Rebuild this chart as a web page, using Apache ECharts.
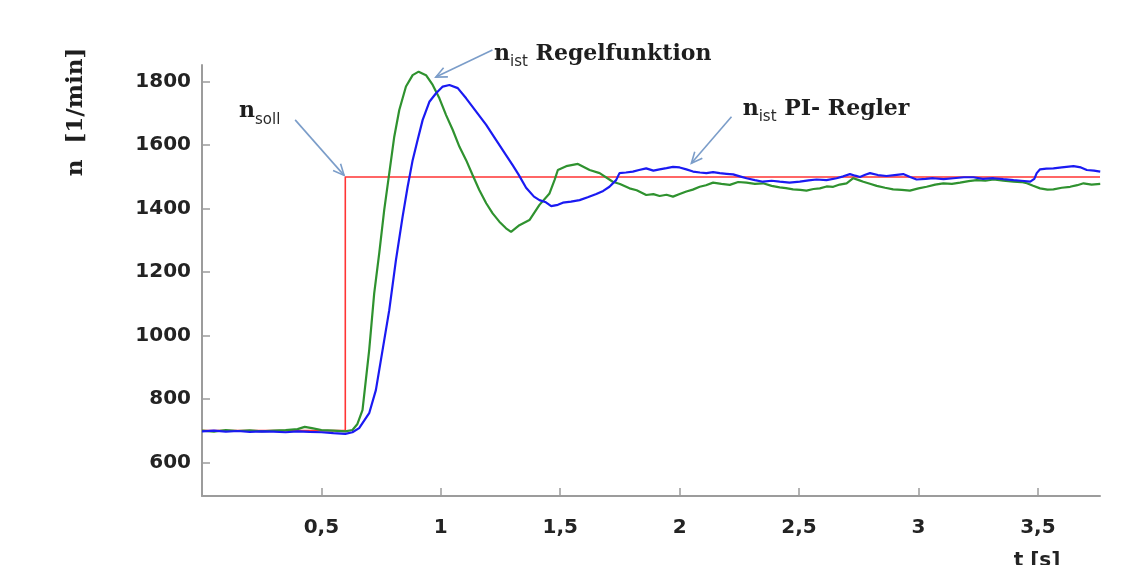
<!DOCTYPE html>
<html><head><meta charset="utf-8">
<script src="https://cdn.jsdelivr.net/npm/echarts@6/dist/echarts.min.js"></script>
<style>html,body{margin:0;padding:0;background:#fff}#c{width:1126px;height:565px}</style>
</head><body><div id="c"></div>
<script>
// ---- data (t in s, n in 1/min) ----
const tSoll = [0, 0.6, 0.6, 3.76];
const nSoll = [700, 700, 1500, 1500];

const tGreen = [0.00,0.05,0.10,0.15,0.20,0.25,0.30,0.35,0.40,0.43,0.46,0.50,0.55,0.60,0.63,0.65,0.672,0.70,0.721,0.742,0.763,0.784,0.805,0.826,0.854,0.882,0.907,0.938,0.966,0.994,1.022,1.050,1.078,1.106,1.133,1.161,1.190,1.217,1.245,1.273,1.294,1.329,1.371,1.413,1.455,1.476,1.490,1.525,1.574,1.623,1.665,1.720,1.75,1.790,1.82,1.860,1.89,1.916,1.945,1.972,2.00,2.028,2.055,2.084,2.11,2.140,2.175,2.210,2.245,2.280,2.315,2.349,2.385,2.419,2.445,2.475,2.505,2.531,2.56,2.587,2.615,2.643,2.67,2.699,2.727,2.75,2.769,2.80,2.825,2.86,2.894,2.93,2.964,3.00,3.034,3.07,3.104,3.14,3.174,3.21,3.244,3.28,3.314,3.355,3.398,3.43,3.454,3.48,3.509,3.54,3.565,3.60,3.635,3.665,3.691,3.725,3.761];
const nGreen = [700,697,702,699,701,698,700,702,705,712,708,702,700,698,702,720,765,954,1133,1259,1396,1511,1627,1711,1785,1821,1832,1821,1790,1748,1695,1648,1595,1553,1506,1459,1417,1385,1359,1338,1327,1348,1364,1412,1448,1490,1522,1534,1541,1522,1512,1485,1478,1464,1458,1443,1446,1440,1444,1438,1446,1454,1460,1469,1474,1482,1478,1475,1484,1482,1478,1480,1472,1467,1465,1461,1459,1457,1462,1464,1470,1469,1476,1480,1496,1490,1485,1478,1472,1466,1461,1459,1457,1464,1469,1476,1480,1478,1482,1487,1490,1488,1492,1488,1485,1484,1480,1472,1464,1460,1461,1466,1469,1474,1480,1476,1478];

const tBlue = [0.00,0.05,0.10,0.15,0.20,0.25,0.30,0.35,0.40,0.45,0.50,0.55,0.60,0.63,0.658,0.70,0.728,0.756,0.784,0.812,0.840,0.861,0.882,0.903,0.924,0.952,0.980,1.008,1.036,1.071,1.106,1.148,1.190,1.231,1.273,1.300,1.325,1.357,1.390,1.413,1.440,1.462,1.490,1.511,1.545,1.581,1.615,1.651,1.680,1.706,1.734,1.748,1.775,1.804,1.830,1.860,1.890,1.916,1.945,1.972,2.000,2.028,2.056,2.085,2.112,2.140,2.168,2.196,2.224,2.252,2.280,2.315,2.349,2.385,2.419,2.460,2.503,2.540,2.573,2.615,2.657,2.685,2.713,2.735,2.755,2.777,2.797,2.830,2.866,2.900,2.936,2.965,2.992,3.030,3.062,3.105,3.146,3.190,3.230,3.270,3.314,3.355,3.398,3.430,3.468,3.485,3.495,3.509,3.535,3.565,3.600,3.649,3.680,3.705,3.735,3.761];
const nBlue = [698,700,697,699,696,698,697,695,698,696,695,692,690,695,708,755,828,954,1080,1238,1375,1469,1553,1617,1680,1737,1764,1785,1790,1780,1748,1706,1664,1617,1569,1538,1508,1466,1438,1427,1420,1408,1412,1419,1422,1427,1436,1446,1456,1469,1490,1512,1514,1517,1522,1527,1520,1524,1528,1532,1530,1524,1517,1514,1512,1515,1512,1510,1508,1502,1496,1490,1485,1488,1485,1482,1485,1489,1492,1490,1496,1502,1509,1504,1500,1507,1512,1506,1503,1506,1509,1500,1492,1494,1496,1493,1496,1499,1499,1494,1496,1493,1490,1488,1485,1494,1512,1524,1526,1527,1530,1534,1530,1522,1520,1517];

const xTicks = [0.5, 1, 1.5, 2, 2.5, 3, 3.5];
const yTicks = [600, 800, 1000, 1200, 1400, 1600, 1800];

// annotation texts: [main, subscript, rest]
const annSoll = ['n', 'soll', ''];
const annRegel = ['n', 'ist', ' Regelfunktion'];
const annPI = ['n', 'ist', ' PI- Regler'];

const zip = (a, b) => a.map((v, i) => [v, b[i]]);

const axisGrey = '#9c9c9c';
const labelFont = {fontFamily: 'DejaVu Sans', fontWeight: 'bold', fontSize: 20, color: '#232323'};

const chart = echarts.init(document.getElementById('c'), null, {renderer: 'canvas'});
chart.setOption({
  animation: false,
  backgroundColor: '#ffffff',
  grid: {left: 202, right: 26, top: 65, bottom: 69, containLabel: false},
  xAxis: {
    type: 'value', min: 0, max: 3.76,
    axisLine: {show: true, onZero: false, lineStyle: {color: axisGrey, width: 2}},
    axisTick: {show: true, inside: true, length: 8, lineStyle: {color: axisGrey, width: 1.5}, customValues: xTicks},
    axisLabel: Object.assign({margin: 22, customValues: xTicks, formatter: v => String(v).replace('.', ',')}, labelFont),
    splitLine: {show: false}
  },
  yAxis: {
    type: 'value', min: 494, max: 1853,
    axisLine: {show: true, lineStyle: {color: axisGrey, width: 2}},
    axisTick: {show: true, inside: true, length: 8, lineStyle: {color: axisGrey, width: 1.5}, customValues: yTicks},
    axisLabel: Object.assign({margin: 11, customValues: yTicks, formatter: v => String(v)}, labelFont),
    splitLine: {show: false}
  },
  series: [
    {type: 'line', name: 'soll', data: zip(tSoll, nSoll), symbol: 'none', lineStyle: {color: '#ff3535', width: 1.6}, itemStyle: {color: '#ff3535'}, z: 2},
    {type: 'line', name: 'regel', data: zip(tGreen, nGreen), symbol: 'none', lineStyle: {color: '#2f922f', width: 2.2}, itemStyle: {color: '#2f922f'}, z: 3},
    {type: 'line', name: 'pi', data: zip(tBlue, nBlue), symbol: 'none', lineStyle: {color: '#1a1af2', width: 2.2}, itemStyle: {color: '#1a1af2'}, z: 4}
  ]
});

// annotation anchors in data coordinates
const annotations = [
  {txt: annSoll, at: [0.155, 1656], from: [0.39, 1680], to: [0.595, 1505]},
  {txt: annRegel, at: [1.223, 1837], from: [1.216, 1900], to: [0.979, 1815]},
  {txt: annPI, at: [2.264, 1664], from: [2.217, 1690], to: [2.049, 1543]}
];

const arrowColor = '#7b9dc9';
const els = [];
annotations.forEach(a => {
  const p = chart.convertToPixel({gridIndex: 0}, a.at);
  const p1 = chart.convertToPixel({gridIndex: 0}, a.from);
  const p2 = chart.convertToPixel({gridIndex: 0}, a.to);
  let text = '{n|' + a.txt[0] + '}{s|' + a.txt[1] + '}';
  if (a.txt[2]) text += '{r|' + a.txt[2].replace(/ /g, '\u00a0') + '}';
  els.push({
    type: 'text', x: p[0], y: p[1], silent: true,
    style: {
      text: text, align: 'left', verticalAlign: 'bottom', textAlign: 'left', textVerticalAlign: 'bottom',
      rich: {
        n: {fontFamily: 'DejaVu Serif', fontWeight: 'bold', fontSize: 22, fill: '#1e1e1e', verticalAlign: 'bottom', padding: [0, 0, 5, 0]},
        s: {fontFamily: 'DejaVu Sans', fontSize: 15, fill: '#2a2a2a', verticalAlign: 'bottom'},
        r: {fontFamily: 'DejaVu Serif', fontWeight: 'bold', fontSize: 22, fill: '#1e1e1e', verticalAlign: 'bottom', padding: [0, 0, 5, 0]}
      }
    }
  });
  const dx = p2[0] - p1[0], dy = p2[1] - p1[1];
  const len = Math.hypot(dx, dy), ux = dx / len, uy = dy / len;
  const L = 11, W = 5;
  els.push({type: 'line', silent: true, shape: {x1: p1[0], y1: p1[1], x2: p2[0], y2: p2[1]}, style: {stroke: arrowColor, lineWidth: 1.6}});
  els.push({type: 'polyline', silent: true, shape: {points: [
    [p2[0] - ux * L - uy * W, p2[1] - uy * L + ux * W],
    [p2[0], p2[1]],
    [p2[0] - ux * L + uy * W, p2[1] - uy * L - ux * W]
  ]}, style: {stroke: arrowColor, lineWidth: 1.6, fill: null}});
});

// axis titles
els.push({
  type: 'text', x: 76, y: 112, rotation: Math.PI / 2, silent: true,
  style: {text: 'n\u00a0\u00a0[1/min]', fontFamily: 'DejaVu Serif', fontWeight: 'bold', fontSize: 23, fill: '#1e1e1e',
    align: 'center', verticalAlign: 'middle', textAlign: 'center', textVerticalAlign: 'middle'}
});
els.push({
  type: 'text', x: 1037, y: 551, silent: true,
  style: {text: 't [s]', fontFamily: 'DejaVu Sans', fontWeight: 'bold', fontSize: 20, fill: '#232323',
    align: 'center', verticalAlign: 'top', textAlign: 'center', textVerticalAlign: 'top'}
});

chart.setOption({graphic: els});
</script>
</body></html>
